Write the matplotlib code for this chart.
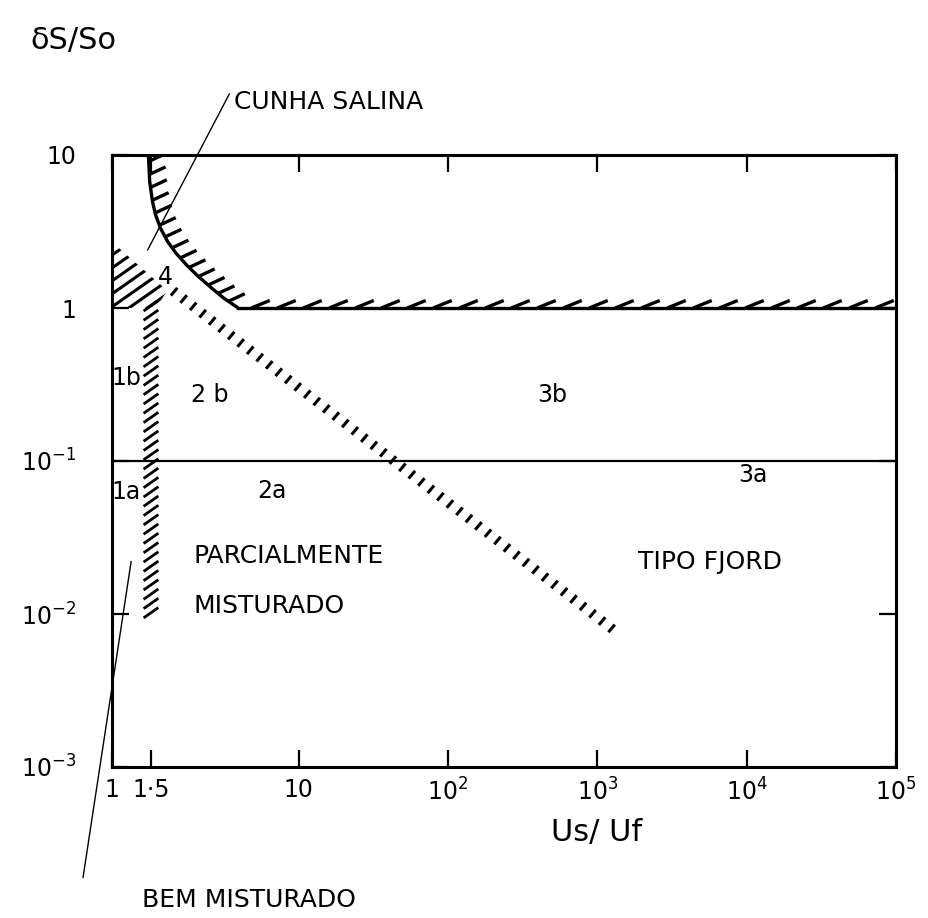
import numpy as np
import matplotlib
matplotlib.use('Agg')
import matplotlib.pyplot as plt
from matplotlib.collections import LineCollection
from matplotlib.patches import Polygon
from matplotlib.ticker import NullLocator

plt.rcParams['font.family'] = ['DejaVu Sans']
plt.rcParams['mathtext.fontset'] = 'dejavusans'

# ---------------- dados ----------------
# curva da cunha salina (limite superior, hachurada por cima)
curve_x = [1.46, 1.48, 1.53, 1.59, 1.70, 1.86, 2.07, 2.36, 2.75, 3.27, 3.82, 4.6]
curve_y = [10.0, 6.7, 4.96, 4.07, 3.30, 2.71, 2.28, 1.92, 1.61, 1.35, 1.16, 1.0]
# continuacao horizontal em dS/So = 1
flat_x = [4.6, 1e5]
flat_y = [1.0, 1.0]
# divisao a / b em dS/So = 0.1
div_x = [1, 1e5]
div_y = [0.1, 0.1]
# faixa vertical Us/Uf = 1.5
band_x = [1.5, 1.5]
band_y = [0.0095, 1.05]
# diagonal hachurada (tipo 2 / tipo 3)
diag_x = [1.9, 1300]
diag_y = [1.35, 0.0078]
# cunha hachurada no canto superior esquerdo
wedge_x = [1.0, 1.0, 1.6, 1.85]
wedge_y = [2.7, 1.0, 1.0, 1.3]

x_ticks = [1, 1.5, 10, 1e2, 1e3, 1e4, 1e5]
x_labels = ['1', '1·5', '10', r'$10^2$', r'$10^3$', r'$10^4$', r'$10^5$']
y_ticks = [1e-3, 1e-2, 1e-1, 1, 10]
y_labels = [r'$10^{-3}$', r'$10^{-2}$', r'$10^{-1}$', '1', '10']

regions = ['1b', '1a', '2 b', '2a', '3b', '3a', '4']
regions_x = [1.16, 1.16, 3.2, 7.1, 500, 1.1e4, 1.8]
regions_y = [0.35, 0.063, 0.27, 0.064, 0.27, 0.081, 1.6]

# escala de Us/Uf: log, mas esticada entre 1 e 10 (como no desenho original)
XL = np.array([0.0, np.log10(1.5), 1.0, 5.0])
XP = np.array([0.0, 0.261, 1.25, 5.25])


def fwd(x):
    lx = np.log10(np.maximum(np.asarray(x, dtype=float), 1e-12))
    p = np.interp(lx, XL, XP)
    p = np.where(lx < 0, lx * XP[1] / XL[1], p)
    return np.where(lx > 5, XP[-1] + (lx - 5), p)


def inv(p):
    p = np.asarray(p, dtype=float)
    lx = np.interp(p, XP, XL)
    lx = np.where(p < 0, p * XL[1] / XP[1], lx)
    lx = np.where(p > XP[-1], 5 + (p - XP[-1]), lx)
    return 10 ** lx


def strokes(ax, xs, ys, spacing, length, angle, centered=False, lw=2.2):
    """tracinhos de hachura ao longo de uma linha (em pixels)"""
    pts = ax.transData.transform(np.column_stack([xs, ys]))
    seg = np.hypot(*np.diff(pts, axis=0).T)
    s = np.concatenate([[0], np.cumsum(seg)])
    ss = np.arange(spacing * 0.5, s[-1], spacing)
    p = np.column_stack([np.interp(ss, s, pts[:, 0]), np.interp(ss, s, pts[:, 1])])
    d = length * np.array([np.cos(np.radians(angle)), np.sin(np.radians(angle))])
    a, b = (p - d / 2, p + d / 2) if centered else (p, p + d)
    tr = ax.transData.inverted()
    segs = [tr.transform(np.vstack([u, v])) for u, v in zip(a, b)]
    ax.add_collection(LineCollection(segs, colors='black', linewidths=lw, capstyle='butt'))


fig = plt.figure(figsize=(9.29, 9.18), dpi=100)
ax = fig.add_axes([112 / 929, 1 - 767 / 918, 784 / 929, 612 / 918])
ax.set_xscale('function', functions=(fwd, inv))
ax.set_yscale('log')
ax.set_xlim(1, 1e5)
ax.set_ylim(1e-3, 10)

for sp in ax.spines.values():
    sp.set_linewidth(2.2)

ax.set_xticks(x_ticks)
ax.set_xticklabels(x_labels)
ax.set_yticks(y_ticks)
ax.set_yticklabels(y_labels)
ax.xaxis.set_minor_locator(NullLocator())
ax.yaxis.set_minor_locator(NullLocator())
ax.tick_params(axis='x', direction='in', length=12, width=1.6, top=True, pad=8, labelsize=17)
ax.tick_params(axis='y', direction='in', length=12, width=1.6, right=True, pad=26, labelsize=17)

# linhas
ax.plot(curve_x, curve_y, color='black', lw=2.4, solid_capstyle='butt')
ax.plot(flat_x, flat_y, color='black', lw=2.4)
ax.plot(div_x, div_y, color='black', lw=1.6)

# hachuras
strokes(ax, curve_x, curve_y, 13, 18, 25, lw=2.4)
strokes(ax, flat_x, flat_y, 26, 20, 22, lw=2.4)
strokes(ax, band_x, band_y, 9.3, 18, 35, centered=True, lw=2.0)
strokes(ax, diag_x, diag_y, 12, 10, 50, centered=True, lw=2.2)

wedge = Polygon(np.column_stack([wedge_x, wedge_y]), closed=True, fill=False, lw=0)
ax.add_patch(wedge)
wp = ax.transData.transform(np.column_stack([wedge_x, wedge_y]))
ang = np.radians(35)
u = np.array([np.cos(ang), np.sin(ang)])
n = np.array([-np.sin(ang), np.cos(ang)])
c_all = wp @ n
t_all = wp @ u
tr = ax.transData.inverted()
hsegs = []
for c in np.arange(c_all.min() + 5, c_all.max(), 10.6):
    a = c * n + (t_all.min() - 5) * u
    b = c * n + (t_all.max() + 5) * u
    hsegs.append(tr.transform(np.vstack([a, b])))
lc = LineCollection(hsegs, colors='black', linewidths=2.2)
ax.add_collection(lc)
lc.set_clip_path(wedge)

# rotulos das regioes
for lab, x, y in zip(regions, regions_x, regions_y):
    ax.text(x, y, lab, fontsize=17, ha='center', va='center')

ax.text(2.6, 0.024, 'PARCIALMENTE', fontsize=18, ha='left', va='center')
ax.text(2.6, 0.0112, 'MISTURADO', fontsize=18, ha='left', va='center')
ax.text(1860, 0.022, 'TIPO FJORD', fontsize=18, ha='left', va='center')

# chamadas
ax.plot([4.1, 1.45], [25, 2.4], color='black', lw=1.0, clip_on=False)
ax.text(4.36, 22.3, 'CUNHA SALINA', fontsize=18, ha='left', va='center', clip_on=False)
ax.plot([1.22, 0.74], [0.022, 1.9e-4], color='black', lw=1.0, clip_on=False)
ax.text(1.36, 1.35e-4, 'BEM MISTURADO', fontsize=18, ha='left', va='center', clip_on=False)

fig.text(30 / 929, 1 - 40 / 918, 'δS/So', fontsize=22, ha='left', va='center')
fig.text(597 / 929, 1 - 832 / 918, 'Us/ Uf', fontsize=22, ha='center', va='center')

fig.savefig('out.png', dpi=100, facecolor='white')
